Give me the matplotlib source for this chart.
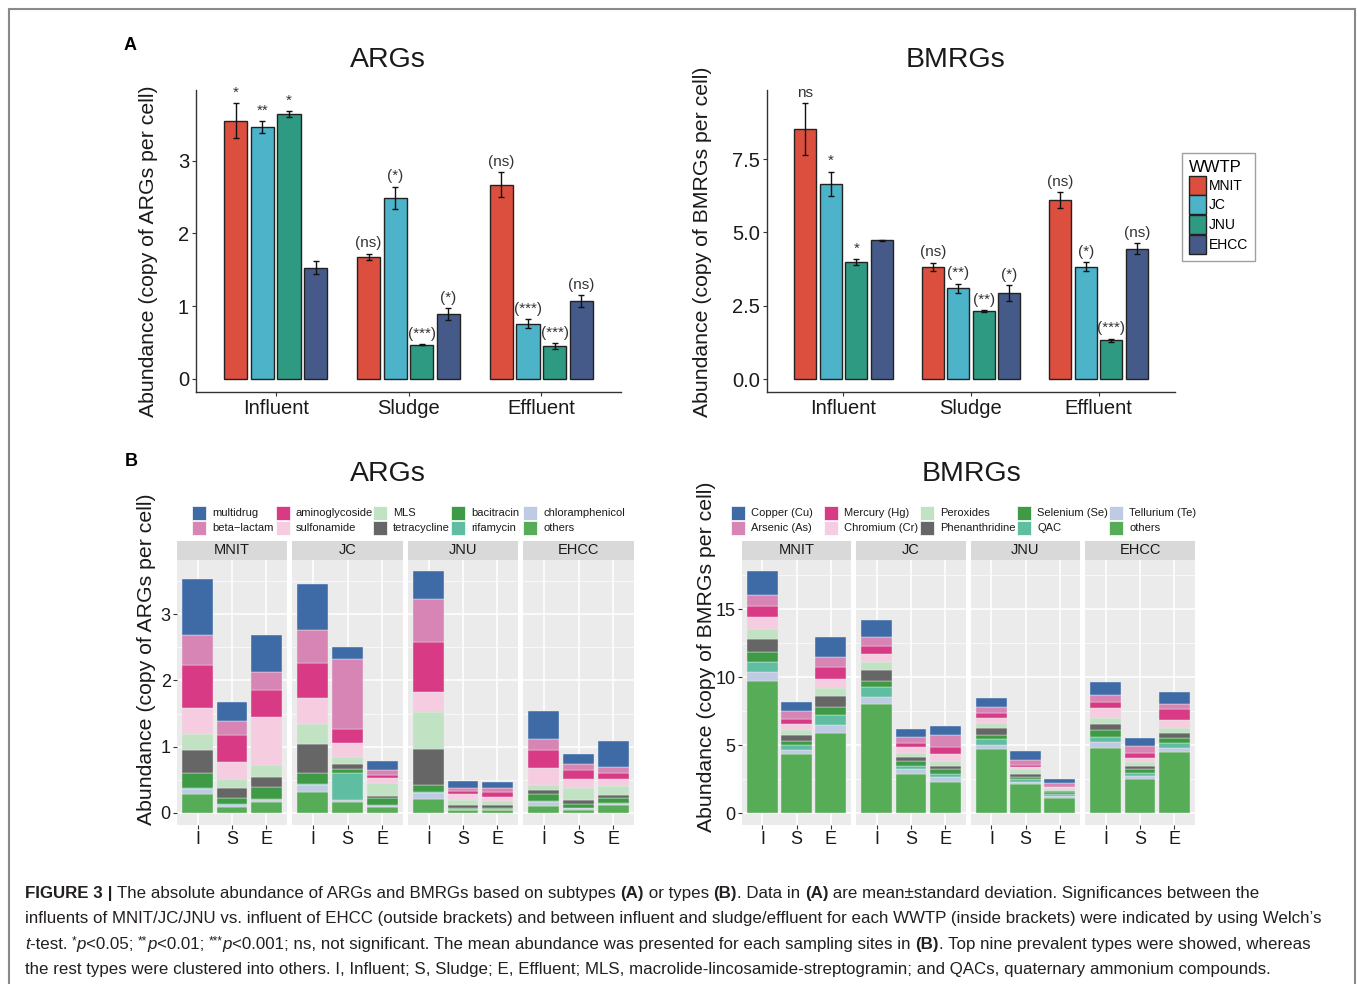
import numpy as np
import matplotlib
matplotlib.use("Agg")
import matplotlib.pyplot as plt
from matplotlib.patches import Rectangle
from matplotlib import font_manager

W, H = 1357, 984

plt.rcParams['font.family'] = ['Liberation Sans', 'DejaVu Sans']

# ---------------- data ----------------
sites = ["MNIT", "JC", "JNU", "EHCC"]
stages = ["Influent", "Sludge", "Effluent"]
stage_short = ["I", "S", "E"]
site_colors = ["#DC4E3E", "#4CB3C9", "#2F9A82", "#465A8A"]

# panel A ARGs (Influent, Sludge, Effluent)
arg_mnit = [3.55, 1.68, 2.67]
arg_jc = [3.46, 2.49, 0.76]
arg_jnu = [3.64, 0.47, 0.45]
arg_ehcc = [1.53, 0.89, 1.07]
arg_mnit_sd = [0.24, 0.04, 0.17]
arg_jc_sd = [0.08, 0.15, 0.06]
arg_jnu_sd = [0.04, 0.01, 0.04]
arg_ehcc_sd = [0.09, 0.08, 0.08]
arg_sig_mnit = ["*", "(ns)", "(ns)"]
arg_sig_jc = ["**", "(*)", "(***)"]
arg_sig_jnu = ["*", "(***)", "(***)"]
arg_sig_ehcc = ["", "(*)", "(ns)"]

# panel A BMRGs
bm_mnit = [8.52, 3.83, 6.11]
bm_jc = [6.66, 3.09, 3.83]
bm_jnu = [4.00, 2.32, 1.33]
bm_ehcc = [4.73, 2.94, 4.45]
bm_mnit_sd = [0.89, 0.14, 0.27]
bm_jc_sd = [0.42, 0.17, 0.15]
bm_jnu_sd = [0.10, 0.02, 0.05]
bm_ehcc_sd = [0.03, 0.26, 0.18]
bm_sig_mnit = ["ns", "(ns)", "(ns)"]
bm_sig_jc = ["*", "(**)", "(*)"]
bm_sig_jnu = ["*", "(**)", "(***)"]
bm_sig_ehcc = ["", "(*)", "(ns)"]

# panel B, 12 values each: MNIT I,S,E  JC I,S,E  JNU I,S,E  EHCC I,S,E
arg_types = ["multidrug", "beta\u2212lactam", "aminoglycoside", "sulfonamide", "MLS",
             "tetracycline", "bacitracin", "rifamycin", "chloramphenicol", "others"]
t_multidrug = [0.86, 0.29, 0.55, 0.68, 0.19, 0.13, 0.42, 0.10, 0.08, 0.42, 0.16, 0.39]
t_betalactam = [0.45, 0.22, 0.27, 0.51, 1.06, 0.08, 0.65, 0.05, 0.06, 0.17, 0.09, 0.10]
t_aminoglycoside = [0.64, 0.40, 0.41, 0.53, 0.20, 0.04, 0.75, 0.05, 0.08, 0.26, 0.14, 0.09]
t_sulfonamide = [0.40, 0.26, 0.72, 0.38, 0.21, 0.08, 0.31, 0.09, 0.06, 0.27, 0.13, 0.10]
t_mls = [0.24, 0.14, 0.19, 0.31, 0.11, 0.20, 0.56, 0.07, 0.06, 0.07, 0.18, 0.13]
t_tetracycline = [0.35, 0.14, 0.15, 0.43, 0.07, 0.03, 0.54, 0.05, 0.05, 0.06, 0.065, 0.045]
t_bacitracin = [0.23, 0.10, 0.18, 0.17, 0.07, 0.10, 0.10, 0.01, 0.015, 0.11, 0.055, 0.085]
t_rifamycin = [0.01, 0.01, 0.01, 0.02, 0.40, 0.01, 0.02, 0.01, 0.005, 0.015, 0.005, 0.005]
t_chloramphenicol = [0.08, 0.03, 0.03, 0.11, 0.03, 0.02, 0.09, 0.01, 0.01, 0.06, 0.02, 0.02]
t_arg_others = [0.28, 0.09, 0.17, 0.31, 0.17, 0.09, 0.21, 0.04, 0.04, 0.10, 0.05, 0.12]

bm_types = ["Copper (Cu)", "Arsenic (As)", "Mercury (Hg)", "Chromium (Cr)", "Peroxides",
            "Phenanthridine", "Selenium (Se)", "QAC", "Tellurium (Te)", "others"]
t_copper = [1.79, 0.66, 1.40, 1.20, 0.56, 0.64, 0.66, 0.61, 0.29, 0.98, 0.61, 0.86]
t_arsenic = [0.76, 0.64, 0.76, 0.71, 0.47, 0.86, 0.49, 0.37, 0.25, 0.51, 0.51, 0.37]
t_mercury = [0.81, 0.34, 0.91, 0.56, 0.25, 0.56, 0.32, 0.15, 0.05, 0.44, 0.39, 0.86]
t_chromium = [0.88, 0.44, 0.64, 0.59, 0.44, 0.47, 0.37, 0.17, 0.12, 0.69, 0.29, 0.54]
t_peroxides = [0.78, 0.39, 0.56, 0.61, 0.34, 0.37, 0.37, 0.32, 0.12, 0.47, 0.25, 0.39]
t_phenanthridine = [0.91, 0.39, 0.83, 0.76, 0.29, 0.22, 0.49, 0.22, 0.12, 0.44, 0.25, 0.39]
t_selenium = [0.74, 0.32, 0.56, 0.49, 0.37, 0.39, 0.29, 0.20, 0.15, 0.49, 0.27, 0.37]
t_qac = [0.74, 0.34, 0.78, 0.71, 0.22, 0.22, 0.49, 0.17, 0.12, 0.37, 0.22, 0.32]
t_tellurium = [0.71, 0.32, 0.54, 0.49, 0.34, 0.32, 0.27, 0.20, 0.12, 0.44, 0.20, 0.32]
t_bm_others = [9.68, 4.36, 5.93, 8.04, 2.89, 2.33, 4.73, 2.13, 1.15, 4.80, 2.55, 4.49]

type_colors = ["#3E6BA6", "#D685B5", "#D93A86", "#F5CCE0", "#C2E2C4",
               "#666666", "#3E9A45", "#5FBEA1", "#BFCBE3", "#57AC57"]

# ---------------- helpers ----------------
fig = plt.figure(figsize=(W / 100, H / 100), dpi=100)


def fx(x):
    return x / W


def fy(y):
    return 1 - y / H


def add_ax(x0, y0, x1, y1):
    return fig.add_axes([x0 / W, 1 - y1 / H, (x1 - x0) / W, (y1 - y0) / H])


def bar_panel(ax, means, sds, sigs, ylim, yticks, fmt):
    x = np.arange(1, 4)
    for k in range(4):
        xs = x + (k - 1.5) * 0.2
        ax.bar(xs, means[k], width=0.175, color=site_colors[k],
               edgecolor="#222222", linewidth=1.0, label=sites[k], zorder=2)
        ax.errorbar(xs, means[k], yerr=sds[k], fmt="none", ecolor="#111111",
                    elinewidth=1, capsize=2, capthick=1, zorder=3)
        for j in range(3):
            if sigs[k][j]:
                ax.annotate(sigs[k][j], (xs[j], means[k][j] + sds[k][j]),
                            xytext=(0, 2.5), textcoords="offset points",
                            ha="center", va="bottom", fontsize=11, color="#333333")
    ax.set_xlim(0.4, 3.6)
    ax.set_ylim(*ylim)
    ax.set_xticks(x)
    ax.set_xticklabels(stages, fontsize=14.5)
    ax.set_yticks(yticks)
    ax.set_yticklabels([fmt.format(v) for v in yticks], fontsize=14.5)
    for s in ["top", "right"]:
        ax.spines[s].set_visible(False)
    for s in ["left", "bottom"]:
        ax.spines[s].set_color("#333333")
        ax.spines[s].set_linewidth(1.0)
    ax.tick_params(length=3, color="#333333", labelcolor="#1a1a1a", pad=2)


def facet_panels(xranges, series, ylim, yticks, minor):
    for i, (x0, x1) in enumerate(xranges):
        ax = add_ax(x0, 560, x1, 825)
        ax.set_facecolor("#EBEBEB")
        bottom = np.zeros(3)
        for vals, c in zip(series[::-1], type_colors[::-1]):
            v = np.array(vals[i * 3:i * 3 + 3])
            ax.bar(np.arange(3), v, bottom=bottom, width=0.9, color=c,
                   edgecolor="#EBEBEB", linewidth=0.3, zorder=2)
            bottom = bottom + v
        ax.set_xlim(-0.6, 2.6)
        ax.set_ylim(*ylim)
        ax.set_yticks(yticks)
        ax.set_yticks(minor, minor=True)
        ax.set_xticks(np.arange(3))
        ax.set_xticklabels(stage_short, fontsize=13)
        ax.grid(which="major", color="white", linewidth=1.1, zorder=0)
        ax.grid(which="minor", axis="y", color="white", linewidth=0.5, zorder=0)
        ax.set_axisbelow(True)
        for s in ax.spines.values():
            s.set_visible(False)
        ax.tick_params(which="major", length=3, color="#333333",
                       labelcolor="#1a1a1a", pad=1.5, labelsize=13)
        ax.tick_params(which="minor", length=0)
        if i > 0:
            ax.tick_params(axis="y", length=0, labelleft=False)
        st = add_ax(x0, 541, x1, 560)
        st.set_facecolor("#D9D9D9")
        st.set_xticks([])
        st.set_yticks([])
        for s in st.spines.values():
            s.set_visible(False)
        st.text(0.5, 0.5, sites[i], ha="center", va="center", fontsize=10.5,
                color="#1a1a1a", transform=st.transAxes)


def facet_legend(names, keys_x, label_dx=20):
    rows_y = [513, 528]
    for i, name in enumerate(names):
        col, row = i // 2, i % 2
        kx, ky = keys_x[col], rows_y[row]
        fig.add_artist(Rectangle((fx(kx), fy(ky + 7)), 14 / W, 14 / H,
                                 transform=fig.transFigure, facecolor=type_colors[i],
                                 edgecolor="white", linewidth=0.5))
        fig.text(fx(kx + label_dx), fy(ky), name, fontsize=8, va="center",
                 ha="left", color="#1a1a1a")


# ---------------- panel A ----------------
ax1 = add_ax(196, 90, 621, 392)
bar_panel(ax1, [arg_mnit, arg_jc, arg_jnu, arg_ehcc],
          [arg_mnit_sd, arg_jc_sd, arg_jnu_sd, arg_ehcc_sd],
          [arg_sig_mnit, arg_sig_jc, arg_sig_jnu, arg_sig_ehcc],
          (-0.179, 3.97), [0, 1, 2, 3], "{:g}")

ax2 = add_ax(767, 90, 1175, 392)
bar_panel(ax2, [bm_mnit, bm_jc, bm_jnu, bm_ehcc],
          [bm_mnit_sd, bm_jc_sd, bm_jnu_sd, bm_ehcc_sd],
          [bm_sig_mnit, bm_sig_jc, bm_sig_jnu, bm_sig_ehcc],
          (-0.44, 9.86), [0, 2.5, 5, 7.5], "{:.1f}")

handles, labels = ax2.get_legend_handles_labels()
leg = fig.legend(handles, labels, title="WWTP", loc="upper left",
                 bbox_to_anchor=(fx(1182), fy(153)), borderaxespad=0,
                 fontsize=10, title_fontsize=12, handlelength=1.22,
                 handleheight=1.73, handletextpad=0.2, labelspacing=0.05,
                 borderpad=0.5, fancybox=False, edgecolor="#888888",
                 alignment="left")
leg.get_frame().set_linewidth(1.0)

fig.text(fx(130), fy(45), "A", fontsize=13, fontweight="bold", ha="center", va="center")
fig.text(fx(388), fy(60), "ARGs", fontsize=20.5, ha="center", va="center", color="#1a1a1a")
fig.text(fx(955), fy(60), "BMRGs", fontsize=20.5, ha="center", va="center", color="#1a1a1a")
fig.text(fx(148), fy(251), "Abundance (copy of ARGs per cell)", rotation=90,
         fontsize=15.3, ha="center", va="center", color="#1a1a1a")
fig.text(fx(703), fy(242), "Abundance (copy of BMRGs per cell)", rotation=90,
         fontsize=15.3, ha="center", va="center", color="#1a1a1a")

# ---------------- panel B ----------------
arg_series = [t_multidrug, t_betalactam, t_aminoglycoside, t_sulfonamide, t_mls,
              t_tetracycline, t_bacitracin, t_rifamycin, t_chloramphenicol, t_arg_others]
bm_series = [t_copper, t_arsenic, t_mercury, t_chromium, t_peroxides,
             t_phenanthridine, t_selenium, t_qac, t_tellurium, t_bm_others]

facet_panels([(177, 287), (292, 403), (408, 518), (523, 634)], arg_series,
             (-0.183, 3.82), [0, 1, 2, 3], [0.5, 1.5, 2.5, 3.5])
facet_panels([(742, 851), (856, 966), (971, 1080), (1085, 1195)], bm_series,
             (-0.86, 18.6), [0, 5, 10, 15], [2.5, 7.5, 12.5, 17.5])

facet_legend(arg_types, [192, 276, 373, 451, 523])
facet_legend(bm_types, [731, 824, 920, 1017, 1109])

fig.text(fx(131), fy(461), "B", fontsize=13, fontweight="bold", ha="center", va="center")
fig.text(fx(388), fy(474), "ARGs", fontsize=20.5, ha="center", va="center", color="#1a1a1a")
fig.text(fx(972), fy(474), "BMRGs", fontsize=20.5, ha="center", va="center", color="#1a1a1a")
fig.text(fx(146), fy(659), "Abundance (copy of ARGs per cell)", rotation=90,
         fontsize=15.3, ha="center", va="center", color="#1a1a1a")
fig.text(fx(706), fy(657), "Abundance (copy of BMRGs per cell)", rotation=90,
         fontsize=15.3, ha="center", va="center", color="#1a1a1a")

# ---------------- frame and caption ----------------
fig.add_artist(Rectangle((fx(9), -0.02), (1355 - 9) / W, fy(9) + 0.02,
                         transform=fig.transFigure, fill=False,
                         edgecolor="#8a8a8a", linewidth=1.5))

names = {f.name for f in font_manager.fontManager.ttflist}
cap_font = "Liberation Sans Narrow" if "Liberation Sans Narrow" in names else "Liberation Sans"
cap_color = "#231F20"
renderer = fig.canvas.get_renderer()

N = {}
B = {"fontweight": "bold"}
I = {"fontstyle": "italic"}
S = {"sup": True}

cap_lines = [
    [("FIGURE 3", B), (" | ", B), ("The absolute abundance of ARGs and BMRGs based on subtypes ", N),
     ("(A)", B), (" or types ", N), ("(B)", B), (". Data in ", N), ("(A)", B),
     (" are mean\u00b1standard deviation. Significances between the", N)],
    [("influents of MNIT/JC/JNU vs. influent of EHCC (outside brackets) and between influent "
      "and sludge/effluent for each WWTP (inside brackets) were indicated by using Welch\u2019s", N)],
    [("t", I), ("-test. ", N), ("*", S), ("p", I), ("<0.05; ", N), ("**", S), ("p", I),
     ("<0.01; ", N), ("***", S), ("p", I),
     ("<0.001; ns, not significant. The mean abundance was presented for each sampling sites in ", N),
     ("(B)", B), (". Top nine prevalent types were showed, whereas", N)],
    [("the rest types were clustered into others. I, Influent; S, Sludge; E, Effluent; MLS, "
      "macrolide-lincosamide-streptogramin; and QACs, quaternary ammonium compounds.", N)],
]

# fit caption size so the second line spans like the reference
probe = fig.text(0, 0, cap_lines[1][0][0], fontsize=10, family=cap_font)
pw = probe.get_window_extent(renderer).width
probe.remove()
cap_size = 10 * 1291 / pw


def rich_line(x, y, parts):
    for txt, kw in parts:
        size = cap_size
        dy = 0
        props = dict(kw)
        if props.pop("sup", False):
            size = cap_size * 0.7
            dy = 5
        t = fig.text(fx(x), fy(y - dy), txt, fontsize=size, family=cap_font,
                     va="baseline", ha="left", color=cap_color, **props)
        x += t.get_window_extent(renderer).width


for i, parts in enumerate(cap_lines):
    rich_line(25, [898, 923, 949, 974][i], parts)

fig.savefig("out.png", dpi=100)
